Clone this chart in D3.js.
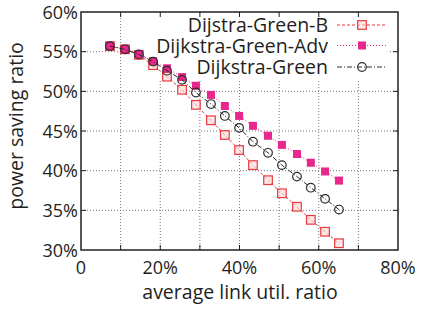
<!DOCTYPE html>
<html>
<head>
<meta charset="utf-8">
<script src="https://cdn.jsdelivr.net/npm/d3@7"></script>
<style>
  body { margin: 0; background: #fff; }
  svg text { font-family: "Open Sans", "Noto Sans", sans-serif; fill: #231f20; }
</style>
</head>
<body>
<div id="chart"></div>
<script>
// x positions (average link util, %)
const utilRatio = [7.3, 11.1, 14.6, 18.2, 21.7, 25.5, 29.0, 32.8, 36.3, 39.9, 43.4, 47.2, 50.7, 54.5, 58.0, 61.6, 65.1]

// power saving ratio (%) per series
const greenB = [55.7, 55.3, 54.6, 53.3, 51.85, 50.2, 48.3, 46.35, 44.5, 42.6, 40.7, 38.8, 37.15, 35.45, 33.8, 32.3, 30.85]
const greenAdv = [55.7, 55.3, 54.7, 53.8, 52.9, 51.8, 50.7, 49.55, 48.15, 46.9, 45.65, 44.4, 43.25, 42.1, 41.0, 39.9, 38.75]
const green = [55.7, 55.3, 54.65, 53.75, 52.6, 51.45, 49.85, 48.4, 46.9, 45.4, 43.65, 42.25, 40.7, 39.25, 37.85, 36.45, 35.1]

const xTicks = [0, 20, 40, 60, 80]
const xGrid = [10, 20, 30, 40, 50, 60, 70]
const yTicks = [30, 35, 40, 45, 50, 55, 60]

const series = [
  { name: 'Dijstra-Green-B', values: greenB, color: '#e8383d', dash: '3,2', marker: 'openSquare' },
  { name: 'Dijkstra-Green-Adv', values: greenAdv, color: '#e8268b', dash: '1,2', marker: 'filledSquare' },
  { name: 'Dijkstra-Green', values: green, color: '#2b2b2b', dash: '5,2,1,2', marker: 'circle' }
]

const width = 423
const height = 309
const plotL = 81, plotR = 398, plotT = 12, plotB = 250

const svg = d3.select('#chart').append('svg')
  .attr('width', width)
  .attr('height', height)

const x = d3.scaleLinear().domain([0, 80]).range([plotL, plotR])
const y = d3.scaleLinear().domain([30, 60]).range([plotB, plotT])

// grid
const grid = svg.append('g')
grid.selectAll('.gx').data(xGrid).enter().append('line')
  .attr('x1', d => x(d)).attr('x2', d => x(d))
  .attr('y1', plotT).attr('y2', plotB)
grid.selectAll('.gy').data(yTicks.slice(1, -1)).enter().append('line')
  .attr('x1', plotL).attr('x2', plotR)
  .attr('y1', d => y(d)).attr('y2', d => y(d))
grid.selectAll('line')
  .attr('stroke', '#7a7a7a')
  .attr('stroke-width', 1)
  .attr('stroke-dasharray', '1,2')

// legend background hides grid
svg.append('rect')
  .attr('x', 143).attr('y', plotT + 1)
  .attr('width', 245).attr('height', 67)
  .attr('fill', '#fff')

// inner ticks on all sides
const ticks = svg.append('g').attr('stroke', '#231f20').attr('stroke-width', 1)
xGrid.forEach(t => {
  ticks.append('line').attr('x1', x(t)).attr('x2', x(t)).attr('y1', plotB).attr('y2', plotB - 5)
  ticks.append('line').attr('x1', x(t)).attr('x2', x(t)).attr('y1', plotT).attr('y2', plotT + 5)
})
yTicks.slice(1, -1).forEach(t => {
  ticks.append('line').attr('x1', plotL).attr('x2', plotL + 5).attr('y1', y(t)).attr('y2', y(t))
  ticks.append('line').attr('x1', plotR).attr('x2', plotR - 5).attr('y1', y(t)).attr('y2', y(t))
})

// tick labels
svg.selectAll('.xl').data(xTicks).enter().append('text')
  .attr('x', d => x(d)).attr('y', 274)
  .attr('text-anchor', 'middle')
  .style('font-size', '18px')
  .text(d => d === 0 ? '0' : d + '%')

svg.selectAll('.yl').data(yTicks).enter().append('text')
  .attr('x', 78).attr('y', d => y(d) + 6.5)
  .attr('text-anchor', 'end')
  .style('font-size', '18px')
  .text(d => d + '%')

// axis titles
svg.append('text')
  .attr('x', 240).attr('y', 299)
  .attr('text-anchor', 'middle')
  .style('font-size', '19.5px')
  .text('average link util. ratio')

svg.append('text')
  .attr('transform', 'translate(23,126) rotate(-90)')
  .attr('text-anchor', 'middle')
  .style('font-size', '19.5px')
  .text('power saving ratio')

function drawMarker(g, cx, cy, s) {
  if (s.marker === 'openSquare') {
    g.append('rect').attr('x', cx - 4.3).attr('y', cy - 4.3).attr('width', 8.6).attr('height', 8.6)
      .attr('fill', '#fbd9d9').attr('fill-opacity', 0.6).attr('stroke', s.color).attr('stroke-width', 1.2)
  } else if (s.marker === 'filledSquare') {
    g.append('rect').attr('x', cx - 4).attr('y', cy - 4).attr('width', 8).attr('height', 8)
      .attr('fill', s.color)
  } else {
    g.append('circle').attr('cx', cx).attr('cy', cy).attr('r', 4.3)
      .attr('fill', 'none').attr('stroke', s.color).attr('stroke-width', 1.2)
  }
}

const line = d3.line().x(d => x(d[0])).y(d => y(d[1]))

// draw order so circles sit on top like the reference
series.forEach(s => {
  const pts = utilRatio.map((u, i) => [u, s.values[i]])
  const g = svg.append('g')
  g.append('path')
    .attr('d', line(pts))
    .attr('fill', 'none')
    .attr('stroke', s.color)
    .attr('stroke-width', 1)
    .attr('stroke-dasharray', s.dash)
  pts.forEach(p => drawMarker(g, x(p[0]), y(p[1]), s))
})

// legend
const legendRows = [25, 45.5, 67]
series.forEach((s, i) => {
  const ly = legendRows[i]
  svg.append('text')
    .attr('x', 328).attr('y', ly + 7)
    .attr('text-anchor', 'end')
    .style('font-size', '19.5px')
    .text(s.name)
  const g = svg.append('g')
  g.append('line')
    .attr('x1', 337).attr('x2', 386).attr('y1', ly).attr('y2', ly)
    .attr('stroke', s.color).attr('stroke-width', 1)
    .attr('stroke-dasharray', s.dash)
  drawMarker(g, 362, ly, s)
})

// plot border
svg.append('rect')
  .attr('x', plotL).attr('y', plotT)
  .attr('width', plotR - plotL).attr('height', plotB - plotT)
  .attr('fill', 'none')
  .attr('stroke', '#231f20')
  .attr('stroke-width', 1.5)
</script>
</body>
</html>
